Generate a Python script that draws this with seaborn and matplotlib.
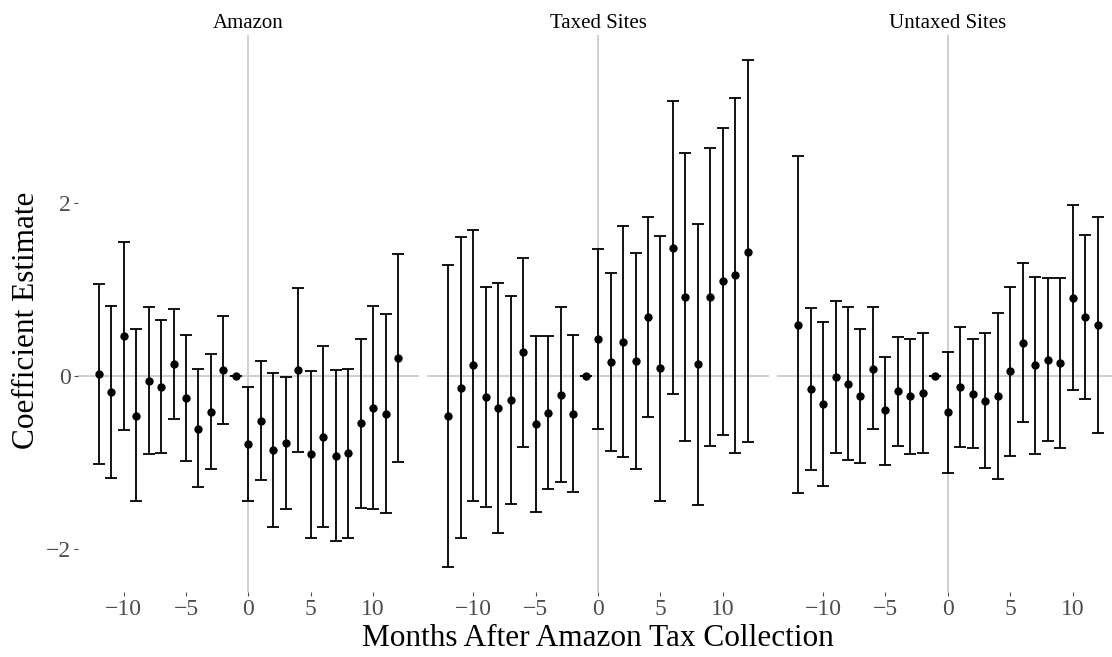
import numpy as np
import pandas as pd
import matplotlib
matplotlib.use("Agg")
import matplotlib.pyplot as plt
import seaborn as sns

months = list(range(-12, 13))
panels = ["Amazon", "Taxed Sites", "Untaxed Sites"]

# coefficient estimates
amazon_est = [0.02, -0.19, 0.46, -0.46, -0.06, -0.13, 0.13, -0.26, -0.61, -0.42, 0.07, 0.0,
              -0.79, -0.52, -0.86, -0.78, 0.07, -0.91, -0.71, -0.93, -0.89, -0.55, -0.37, -0.44, 0.20]
amazon_hi = [1.06, 0.81, 1.55, 0.54, 0.79, 0.64, 0.77, 0.47, 0.08, 0.25, 0.69, 0.0,
             -0.13, 0.17, 0.03, -0.02, 1.01, 0.05, 0.34, 0.07, 0.08, 0.42, 0.81, 0.71, 1.41]
amazon_lo = [-1.02, -1.18, -0.63, -1.45, -0.91, -0.89, -0.50, -0.98, -1.29, -1.08, -0.56, 0.0,
             -1.45, -1.20, -1.75, -1.54, -0.88, -1.87, -1.75, -1.91, -1.87, -1.53, -1.54, -1.59, -1.00]

taxed_est = [-0.47, -0.14, 0.12, -0.25, -0.37, -0.28, 0.27, -0.56, -0.43, -0.22, -0.44, 0.0,
             0.42, 0.16, 0.39, 0.17, 0.68, 0.09, 1.48, 0.91, 0.13, 0.91, 1.09, 1.16, 1.43]
taxed_hi = [1.28, 1.60, 1.69, 1.02, 1.07, 0.92, 1.36, 0.46, 0.46, 0.79, 0.47, 0.0,
            1.47, 1.19, 1.73, 1.42, 1.84, 1.62, 3.18, 2.58, 1.75, 2.63, 2.86, 3.21, 3.65]
taxed_lo = [-2.21, -1.88, -1.45, -1.52, -1.82, -1.48, -0.82, -1.58, -1.31, -1.23, -1.34, 0.0,
            -0.61, -0.87, -0.94, -1.08, -0.48, -1.45, -0.21, -0.76, -1.50, -0.81, -0.68, -0.89, -0.77]

untaxed_est = [0.59, -0.15, -0.33, -0.02, -0.09, -0.24, 0.08, -0.40, -0.18, -0.24, -0.20, 0.0,
               -0.42, -0.13, -0.21, -0.29, -0.23, 0.05, 0.38, 0.12, 0.18, 0.15, 0.90, 0.68, 0.59]
untaxed_hi = [2.54, 0.78, 0.62, 0.86, 0.80, 0.54, 0.79, 0.22, 0.45, 0.43, 0.49, 0.0,
              0.28, 0.56, 0.42, 0.49, 0.72, 1.02, 1.30, 1.14, 1.13, 1.13, 1.97, 1.63, 1.83]
untaxed_lo = [-1.36, -1.09, -1.27, -0.89, -0.97, -1.01, -0.62, -1.03, -0.81, -0.91, -0.89, 0.0,
              -1.12, -0.82, -0.84, -1.07, -1.19, -0.93, -0.53, -0.90, -0.76, -0.83, -0.17, -0.27, -0.66]

df = pd.concat([
    pd.DataFrame({"panel": p, "month": months, "est": e, "lo": l, "hi": h})
    for p, e, l, h in [("Amazon", amazon_est, amazon_lo, amazon_hi),
                       ("Taxed Sites", taxed_est, taxed_lo, taxed_hi),
                       ("Untaxed Sites", untaxed_est, untaxed_lo, untaxed_hi)]
])

sns.set_theme(style="white")
plt.rcParams["font.family"] = ["Liberation Serif", "DejaVu Serif"]

fig = plt.figure(figsize=(11.12, 6.57), dpi=100)
W, H = 1112, 657
lefts = [77.6, 427.3, 777.0]
pw = 341.6
top, bottom = 34.9, 592.0
gray = "#4D4D4D"

for i, (name, left) in enumerate(zip(panels, lefts)):
    ax = fig.add_axes([left / W, (H - bottom) / H, pw / W, (bottom - top) / H])
    d = df[df["panel"] == name]
    ax.axhline(0, color="#CCCCCC", lw=1.3, zorder=0)
    ax.axvline(0, color="#CCCCCC", lw=1.3, zorder=0)
    ax.errorbar(d["month"], d["est"], yerr=[d["est"] - d["lo"], d["hi"] - d["est"]],
                fmt="none", ecolor="black", elinewidth=1.3, capsize=4, capthick=1.3, zorder=2)
    sns.scatterplot(data=d, x="month", y="est", color="black", s=36, edgecolor="black",
                    linewidth=0, ax=ax, zorder=3)
    ax.set_xlim(-13.69, 13.69)
    ax.set_ylim(-2.50, 3.94)
    ax.set_xticks([-10, -5, 0, 5, 10])
    ax.set_xticklabels(["\u221210", "\u22125", "0", "5", "10"])
    ax.set_yticks([-2, 0, 2])
    ax.set_yticklabels(["\u22122", "0", "2"])
    ax.tick_params(axis="both", which="both", length=3, width=0.8, color=gray,
                   labelcolor=gray, labelsize=17, pad=2, bottom=True, left=(i == 0))
    if i > 0:
        ax.tick_params(axis="y", labelleft=False)
    for s in ax.spines.values():
        s.set_visible(False)
    ax.set_xlabel("")
    ax.set_ylabel("")
    ax.set_title(name, fontsize=15, pad=5, color="black")
    ax.set_facecolor("none")

fig.text(598 / W, 1 - 638 / H, "Months After Amazon Tax Collection", ha="center", va="center",
         fontsize=22.5, color="black")
fig.text(27 / W, 1 - 320 / H, "Coefficient Estimate", ha="center", va="center",
         rotation=90, fontsize=22.5, color="black")

fig.savefig("out.png", dpi=100)
